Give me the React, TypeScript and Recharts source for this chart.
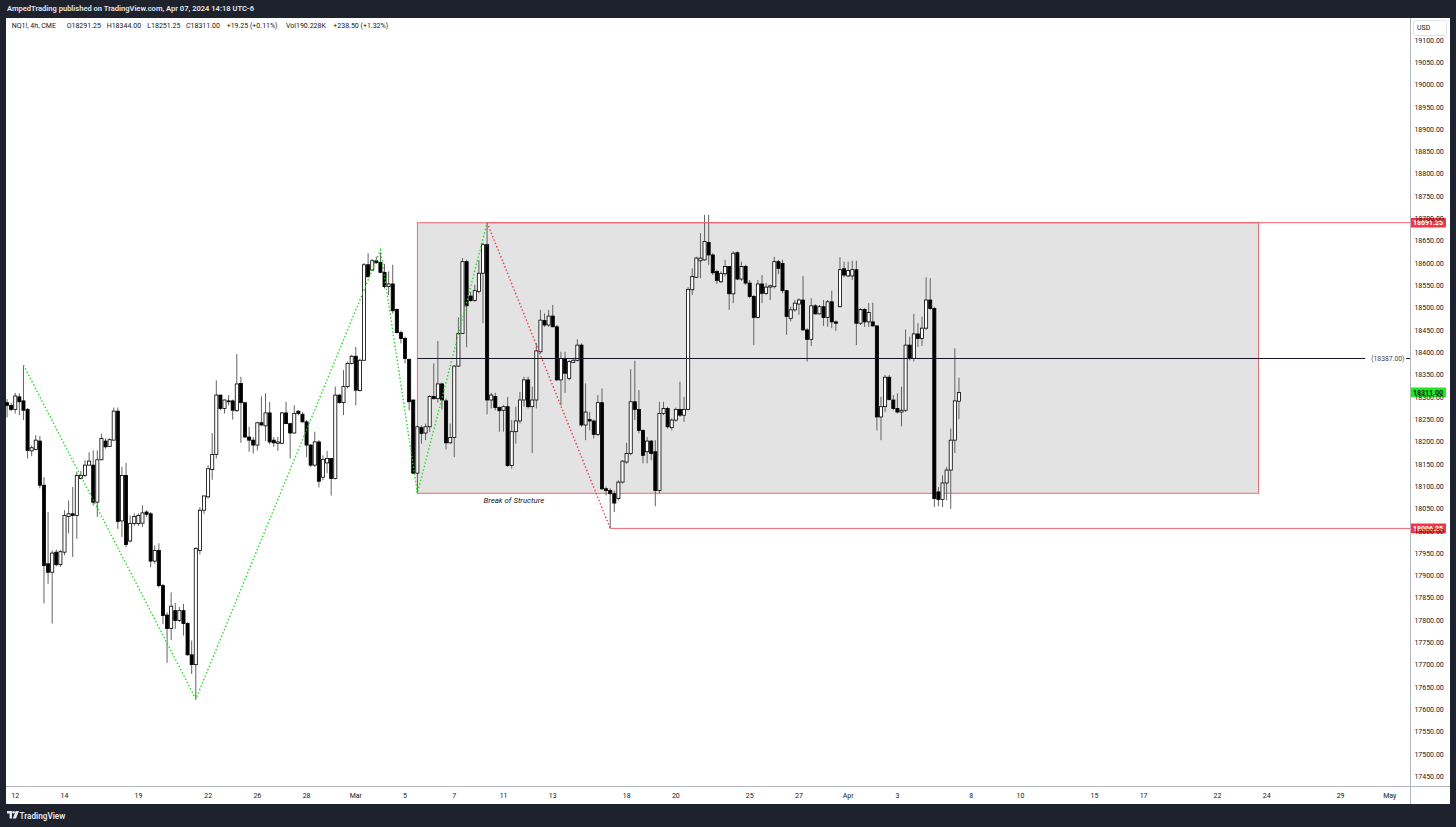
import React from 'react';
import { ComposedChart, Bar, Line, XAxis, YAxis, ReferenceArea, ReferenceLine } from 'recharts';

// ---------------- data (NQ1!, 4h) ----------------
const OPEN: number[] = [
  18288, 18282, 18273, 18301, 18292, 18273, 18180, 18183, 18202, 18103,
  17927, 17908, 17953, 17925, 17953, 18033, 18039, 18035, 18118, 18125,
  18148, 18148, 18065, 18160, 18202, 18190, 18204, 18269, 18023, 18125,
  17978, 18017, 18017, 18018, 18043, 18039, 17933, 17957, 17878, 17812,
  17782, 17822, 17800, 17822, 17793, 17723, 17701, 17957, 18047, 18077,
  18138, 18172, 18305, 18275, 18292, 18292, 18270, 18331, 18288, 18211,
  18204, 18193, 18243, 18236, 18265, 18204, 18197, 18197, 18265, 18241,
  18220, 18269, 18262, 18245, 18193, 18148, 18200, 18121, 18153, 18163,
  18118, 18305, 18288, 18324, 18376, 18392, 18315, 18383, 18597, 18585,
  18606, 18602, 18580, 18548, 18554, 18497, 18445, 18432, 18385, 18294,
  18130, 18232, 18220, 18234, 18302, 18297, 18330, 18292, 18198, 18210,
  18370, 18443, 18604, 18527, 18517, 18537, 18578, 18642, 18294, 18302,
  18277, 18271, 18279, 18147, 18223, 18247, 18294, 18339, 18279, 18294,
  18402, 18472, 18462, 18482, 18458, 18339, 18387, 18342, 18378, 18383,
  18417, 18238, 18250, 18247, 18217, 18288, 18095, 18091, 18084, 18073,
  18110, 18155, 18174, 18290, 18273, 18226, 18178, 18202, 18178, 18091,
  18264, 18275, 18232, 18249, 18273, 18260, 18273, 18541, 18569, 18606,
  18608, 18647, 18619, 18582, 18559, 18577, 18593, 18532, 18624, 18565,
  18593, 18556, 18526, 18479, 18554, 18533, 18547, 18548, 18604, 18600,
  18539, 18477, 18496, 18509, 18518, 18451, 18430, 18505, 18487, 18503,
  18479, 18514, 18469, 18503, 18588, 18572, 18572, 18586, 18466, 18497,
  18469, 18469, 18460, 18256, 18279, 18345, 18294, 18275, 18267, 18271,
  18417, 18387, 18442, 18432, 18455, 18518, 18499, 18088, 18071, 18108,
  18137, 18204, 18291.25,
];
const HIGH: number[] = [
  18296, 18287, 18310, 18309, 18372, 18276, 18192, 18215, 18213, 18121,
  18043, 17957, 17959, 17958, 18047, 18069, 18099, 18133, 18135, 18159,
  18177, 18181, 18181, 18219, 18208, 18208, 18277, 18277, 18144, 18153,
  18035, 18040, 18040, 18058, 18047, 18043, 17968, 17973, 17882, 17818,
  17863, 17839, 17830, 17837, 17796, 17755, 17964, 18054, 18080, 18148,
  18220, 18338, 18305, 18295, 18305, 18295, 18397, 18346, 18288, 18234,
  18211, 18245, 18302, 18309, 18290, 18211, 18211, 18267, 18290, 18243,
  18282, 18271, 18267, 18249, 18195, 18223, 18204, 18170, 18180, 18163,
  18324, 18307, 18361, 18380, 18395, 18413, 18387, 18601, 18623, 18610,
  18615, 18625, 18599, 18582, 18597, 18499, 18449, 18436, 18387, 18294,
  18237, 18237, 18241, 18305, 18376, 18426, 18333, 18297, 18241, 18372,
  18479, 18612, 18608, 18537, 18552, 18608, 18646, 18691.25, 18310, 18310,
  18279, 18282, 18301, 18249, 18279, 18312, 18346, 18346, 18324, 18421,
  18496, 18488, 18496, 18507, 18462, 18402, 18402, 18383, 18388, 18430,
  18421, 18331, 18267, 18250, 18305, 18320, 18100, 18096, 18091, 18114,
  18159, 18198, 18363, 18382, 18316, 18228, 18211, 18204, 18204, 18290,
  18290, 18279, 18253, 18277, 18335, 18301, 18547, 18589, 18615, 18668,
  18709, 18709, 18623, 18586, 18582, 18608, 18593, 18627, 18627, 18604,
  18597, 18563, 18529, 18563, 18574, 18556, 18552, 18615, 18608, 18608,
  18541, 18503, 18518, 18522, 18572, 18455, 18522, 18509, 18507, 18518,
  18518, 18539, 18472, 18614, 18604, 18604, 18606, 18606, 18500, 18500,
  18511, 18512, 18462, 18301, 18350, 18350, 18305, 18309, 18324, 18452,
  18436, 18487, 18466, 18481, 18569, 18567, 18503, 18099, 18125, 18144,
  18230, 18410, 18344,
];
const LOW: number[] = [
  18255, 18269, 18264, 18260, 18249, 18163, 18168, 18181, 18096, 17838,
  17882, 17793, 17921, 17920, 17946, 17995, 17942, 17983, 18116, 18121,
  18148, 18058, 18032, 18159, 18185, 18189, 18204, 18005, 17987, 17964,
  17975, 18012, 18012, 18009, 18032, 17919, 17927, 17874, 17792, 17705,
  17756, 17781, 17796, 17766, 17721, 17680, 17624, 17948, 18039, 18073,
  18115, 18163, 18271, 18264, 18282, 18250, 18267, 18198, 18210, 18178,
  18174, 18181, 18236, 18202, 18195, 18189, 18180, 18195, 18240, 18163,
  18219, 18260, 18243, 18166, 18144, 18144, 18098, 18114, 18130, 18080,
  18116, 18286, 18260, 18320, 18374, 18282, 18313, 18382, 18569, 18584,
  18599, 18578, 18544, 18529, 18488, 18443, 18421, 18376, 18271, 18129,
  18085, 18196, 18204, 18222, 18295, 18288, 18273, 18183, 18196, 18166,
  18369, 18442, 18412, 18514, 18514, 18533, 18466, 18262, 18275, 18271,
  18223, 18223, 18144, 18140, 18196, 18241, 18279, 18275, 18175, 18275,
  18398, 18458, 18458, 18457, 18337, 18282, 18310, 18338, 18377, 18380,
  18234, 18204, 18226, 18208, 18213, 18092, 18080, 18006.25, 18043, 18069,
  18107, 18151, 18170, 18249, 18219, 18152, 18152, 18159, 18056, 18085,
  18260, 18230, 18226, 18245, 18256, 18245, 18271, 18529, 18567, 18567,
  18606, 18597, 18574, 18554, 18556, 18571, 18496, 18511, 18563, 18561,
  18552, 18522, 18417, 18477, 18511, 18529, 18518, 18544, 18576, 18533,
  18440, 18470, 18492, 18485, 18449, 18380, 18415, 18485, 18485, 18460,
  18458, 18455, 18449, 18502, 18569, 18569, 18563, 18417, 18462, 18458,
  18458, 18458, 18226, 18204, 18267, 18293, 18271, 18264, 18235, 18267,
  18383, 18380, 18413, 18415, 18451, 18496, 18054, 18056, 18054, 18069,
  18050, 18175, 18251.25,
];
const CLOSE: number[] = [
  18282, 18273, 18303, 18290, 18271, 18181, 18187, 18204, 18103, 17923,
  17908, 17951, 17925, 17954, 18035, 18039, 18035, 18125, 18125, 18148,
  18157, 18065, 18160, 18208, 18189, 18205, 18269, 18022, 18125, 17970,
  18017, 18033, 18035, 18041, 18038, 17933, 17957, 17878, 17811, 17782,
  17832, 17800, 17822, 17793, 17723, 17701, 17961, 18047, 18079, 18140,
  18172, 18305, 18275, 18294, 18291, 18271, 18330, 18288, 18211, 18204,
  18193, 18243, 18238, 18265, 18200, 18198, 18200, 18265, 18241, 18220,
  18264, 18264, 18245, 18193, 18148, 18200, 18112, 18161, 18163, 18118,
  18305, 18288, 18324, 18376, 18392, 18316, 18383, 18597, 18570, 18606,
  18602, 18580, 18548, 18554, 18494, 18445, 18432, 18387, 18290, 18130,
  18234, 18219, 18234, 18302, 18297, 18330, 18294, 18198, 18210, 18370,
  18443, 18604, 18505, 18517, 18539, 18578, 18642, 18294, 18305, 18277,
  18270, 18279, 18147, 18223, 18247, 18294, 18339, 18279, 18294, 18404,
  18473, 18462, 18482, 18458, 18339, 18387, 18354, 18380, 18383, 18417,
  18238, 18267, 18247, 18217, 18288, 18095, 18091, 18084, 18063, 18110,
  18157, 18174, 18290, 18273, 18226, 18170, 18202, 18174, 18091, 18264,
  18275, 18234, 18249, 18273, 18260, 18273, 18542, 18571, 18612, 18612,
  18649, 18619, 18579, 18562, 18577, 18593, 18532, 18623, 18565, 18593,
  18556, 18526, 18479, 18554, 18533, 18547, 18550, 18604, 18589, 18539,
  18481, 18496, 18511, 18518, 18451, 18430, 18505, 18487, 18503, 18479,
  18514, 18469, 18466, 18586, 18574, 18584, 18586, 18466, 18497, 18469,
  18490, 18460, 18256, 18279, 18345, 18295, 18275, 18267, 18271, 18417,
  18387, 18442, 18432, 18455, 18518, 18499, 18073, 18071, 18108, 18137,
  18204, 18292, 18311,
];

// time slots (4h bars + future space) and date labels
const SLOT_COUNT = 343;
const TICK_SLOTS = [2, 14, 32, 49, 61, 73, 85, 97, 109, 121, 133, 151, 163, 181, 193, 205, 217, 235, 247, 265, 277, 295, 307, 325, 337];
const TICK_LABELS = ['12', '14', '19', '22', '26', '28', 'Mar', '5', '7', '11', '13', '18', '20', '25', '27', 'Apr', '3', '8', '10', '15', '17', '22', '24', '29', 'May'];
const PRICE_TICKS = [
  17450, 17500, 17550, 17600, 17650, 17700, 17750, 17800, 17850, 17900, 17950,
  18000, 18050, 18100, 18150, 18200, 18250, 18300, 18350, 18400, 18450, 18500,
  18550, 18600, 18650, 18700, 18750, 18800, 18850, 18900, 18950, 19000, 19050, 19100,
];
const Y_DOMAIN: [number, number] = [17429, 19150];

// drawings
const ZIGZAG_SLOTS = [4, 46, 91, 100, 117];
const ZIGZAG_PRICES = [18372, 17624, 18630, 18085, 18691.25];
const BOS_SLOTS = [117, 147];
const BOS_PRICES = [18691.25, 18006.25];
const RANGE_FROM = 100;
const RANGE_TO = 305;
const RANGE_HIGH = 18691.25;
const RANGE_LOW = 18085;
const MID_LEVEL = 18387;
const MID_LINE_END = 331;
const SWEEP_LOW = 18006.25;
const LAST_PRICE = 18311;
const LAST_SLOT = SLOT_COUNT - 1;

// ---------------- layout ----------------
const W = 1456;
const H = 827;
const BAND = 4.103;
const PLOT_LEFT = 5.05;
const PLOT_W = SLOT_COUNT * BAND;
const RIGHT_MARGIN = 6;
const YAXIS_W = W - PLOT_LEFT - PLOT_W - RIGHT_MARGIN;
const AXIS_X = 1410;
const FONT = 'Roboto, "Open Sans", sans-serif';
const TEXT = '#131722';
const RED = '#f23645';
const RED_LINE = '#f06570';
const GREEN = '#14e014';
const BODY_W = 3.1;

const LABEL_AT: Record<number, string> = {};
TICK_SLOTS.forEach((s, k) => { LABEL_AT[s] = TICK_LABELS[k]; });

const rows = Array.from({ length: SLOT_COUNT }, (_, i) => {
  const has = i < OPEN.length;
  const zi = ZIGZAG_SLOTS.indexOf(i);
  const bi = BOS_SLOTS.indexOf(i);
  return {
    i,
    o: has ? OPEN[i] : null,
    h: has ? HIGH[i] : null,
    l: has ? LOW[i] : null,
    c: has ? CLOSE[i] : null,
    range: has ? [LOW[i], HIGH[i]] : null,
    zz: zi >= 0 ? ZIGZAG_PRICES[zi] : null,
    bos: bi >= 0 ? BOS_PRICES[bi] : null,
  };
});

function Candle(props: any) {
  const { x, y, width, height, payload } = props;
  if (!payload || payload.o == null || !isFinite(y) || !isFinite(height)) return null;
  const { o, h, l, c } = payload;
  const span = h - l;
  const toY = (p: number) => (span === 0 ? y : y + ((h - p) / span) * height);
  const cx = x + width / 2;
  const top = toY(Math.max(o, c));
  const bot = toY(Math.min(o, c));
  const up = c >= o;
  return (
    <g>
      <line x1={cx} x2={cx} y1={y} y2={y + height} stroke="#636363" strokeWidth={1} />
      <rect
        x={cx - BODY_W / 2}
        y={top}
        width={BODY_W}
        height={Math.max(bot - top, 0.9)}
        fill={up ? '#ffffff' : '#000000'}
        stroke="#000000"
        strokeWidth={0.8}
      />
    </g>
  );
}

function DayTick(props: any) {
  const { x, y, payload } = props;
  const label = LABEL_AT[payload?.value];
  if (!label) return null;
  return (
    <text x={x} y={y + 11.5} textAnchor="middle" fontSize={7} fontFamily={FONT} fill={TEXT}>
      {label}
    </text>
  );
}

function PriceTick(props: any) {
  const { x, y, payload } = props;
  return (
    <text x={x + 2} y={y} dy="0.33em" textAnchor="start" fontSize={7} fontFamily={FONT} fill={TEXT}>
      {Number(payload.value).toFixed(2)}
    </text>
  );
}

function RangeBox(props: any) {
  const { x, y, width, height } = props;
  if (!isFinite(x) || !isFinite(y)) return null;
  return (
    <rect
      x={x + BAND / 2}
      y={y}
      width={width - BAND}
      height={height}
      fill="#e3e3e3"
      stroke={RED_LINE}
      strokeWidth={1}
    />
  );
}

function Badge(props: any) {
  const { viewBox, text, fill, color } = props;
  if (!viewBox) return null;
  const y = viewBox.y;
  return (
    <g>
      <rect x={AXIS_X} y={y - 4.8} width={36} height={9.6} fill={fill} rx={1} />
      <text x={AXIS_X + 18} y={y} dy="0.34em" textAnchor="middle" fontSize={7} fontWeight={700} fontFamily={FONT} fill={color}>
        {text}
      </text>
    </g>
  );
}

function MidLabel(props: any) {
  const { viewBox, text } = props;
  if (!viewBox) return null;
  return (
    <text x={viewBox.x + viewBox.width + 6} y={viewBox.y} dy="0.34em" textAnchor="start" fontSize={6.8} fontFamily={FONT} fill="#434651">
      {text}
    </text>
  );
}

function BosLabel(props: any) {
  const { viewBox, text } = props;
  if (!viewBox) return null;
  return (
    <text x={viewBox.x + viewBox.width / 2} y={viewBox.y + 7.5} dy="0.34em" textAnchor="middle" fontSize={7.8} fontStyle="italic" fontFamily={FONT} fill={TEXT}>
      {text}
    </text>
  );
}

const abs = (left: number, top: number, extra: React.CSSProperties = {}): React.CSSProperties => ({
  position: 'absolute',
  left,
  top,
  whiteSpace: 'nowrap',
  lineHeight: 1,
  ...extra,
});

const LEGEND: [number, string][] = [
  [11.7, 'NQ1!, 4h, CME'],
  [66.7, 'O18291.25'],
  [106.7, 'H18344.00'],
  [147.3, 'L18251.25'],
  [186, 'C18311.00'],
  [226.7, '+19.25 (+0.11%)'],
  [286, 'Vol190.228K'],
  [333.3, '+238.50 (+1.32%)'],
];

export default function App() {
  return (
    <div style={{ position: 'absolute', left: 0, top: 0, width: W, height: H, background: '#1e222d', overflow: 'hidden', fontFamily: FONT }}>
      <div style={{ position: 'absolute', left: 6, top: 18, width: 1444, height: 786, background: '#ffffff' }} />
      <div style={{ position: 'absolute', left: 0, top: 0 }}>
        <ComposedChart
          width={W}
          height={H}
          data={rows}
          margin={{ top: 18, right: RIGHT_MARGIN, bottom: 23, left: PLOT_LEFT }}
          barCategoryGap={0}
        >
          <XAxis
            dataKey="i"
            type="category"
            interval={0}
            tickLine={false}
            axisLine={false}
            tickSize={0}
            tickMargin={0}
            height={18}
            tick={<DayTick />}
          />
          <YAxis
            orientation="right"
            type="number"
            domain={Y_DOMAIN}
            ticks={PRICE_TICKS}
            interval={0}
            allowDataOverflow
            tickLine={false}
            axisLine={false}
            tickSize={0}
            tickMargin={0}
            width={YAXIS_W}
            tick={<PriceTick />}
          />
          <ReferenceArea x1={RANGE_FROM} x2={RANGE_TO} y1={RANGE_LOW} y2={RANGE_HIGH} shape={<RangeBox />} zIndex={50} />
          <Bar dataKey="range" shape={<Candle />} isAnimationActive={false} />
          <Line dataKey="zz" type="linear" connectNulls stroke={GREEN} strokeWidth={1.4} strokeDasharray="1.4 2.2" dot={false} activeDot={false} isAnimationActive={false} />
          <Line dataKey="bos" type="linear" connectNulls stroke={RED} strokeWidth={1.4} strokeDasharray="1.4 2.2" dot={false} activeDot={false} isAnimationActive={false} />
          <ReferenceLine
            segment={[{ x: BOS_SLOTS[0], y: RANGE_HIGH }, { x: LAST_SLOT, y: RANGE_HIGH }]}
            stroke={RED_LINE}
            strokeWidth={1}
          />
          <ReferenceLine
            segment={[{ x: BOS_SLOTS[1], y: SWEEP_LOW }, { x: LAST_SLOT, y: SWEEP_LOW }]}
            stroke={RED_LINE}
            strokeWidth={1}
          />
          <ReferenceLine
            segment={[{ x: RANGE_FROM, y: MID_LEVEL }, { x: MID_LINE_END, y: MID_LEVEL }]}
            stroke="#131722"
            strokeWidth={1}
            label={<MidLabel text="(18387.00)" />}
          />
          <ReferenceLine
            segment={[{ x: LAST_SLOT - 1, y: MID_LEVEL }, { x: LAST_SLOT, y: MID_LEVEL }]}
            stroke="#131722"
            strokeWidth={1}
          />
          <ReferenceLine
            segment={[{ x: RANGE_FROM, y: RANGE_LOW }, { x: BOS_SLOTS[1], y: RANGE_LOW }]}
            stroke="none"
            label={<BosLabel text="Break of Structure" />}
          />
          <ReferenceLine y={RANGE_HIGH} stroke="none" zIndex={1000} label={<Badge text="18691.25" fill={RED} color="#ffffff" />} />
          <ReferenceLine y={SWEEP_LOW} stroke="none" zIndex={1000} label={<Badge text="18006.25" fill={RED} color="#ffffff" />} />
          <ReferenceLine y={LAST_PRICE} stroke="none" zIndex={1000} label={<Badge text="18311.00" fill="#1ee81e" color="#131722" />} />
        </ComposedChart>
      </div>

      {/* panel separators */}
      <div style={{ position: 'absolute', left: AXIS_X, top: 18, width: 1, height: 786, background: '#b2b5be' }} />
      <div style={{ position: 'absolute', left: 6, top: 786, width: 1444, height: 1, background: '#b2b5be' }} />

      {/* currency box */}
      <div style={{ position: 'absolute', left: 1412.5, top: 19.5, width: 34, height: 16.5, background: '#ffffff', border: '1px solid #e0e3eb', borderRadius: 3, boxSizing: 'border-box' }} />
      <div style={abs(1417, 24.5, { fontSize: 7, color: TEXT })}>USD</div>

      {/* header */}
      <div style={abs(7, 5.1, { fontSize: 7.55, fontWeight: 600, color: '#e6e8ee' })}>
        AmpedTrading published on TradingView.com, Apr 07, 2024 14:18 UTC-6
      </div>
      {LEGEND.map(([x, t]) => (
        <div key={t} style={abs(x, 23.3, { fontSize: 7, color: TEXT })}>{t}</div>
      ))}

      {/* footer */}
      <svg style={{ position: 'absolute', left: 7, top: 811 }} width={12} height={8} viewBox="0 0 12 8">
        <path d="M0 0 H5 V7.5 H2.6 V2.4 H0 Z" fill="#e6e8ee" />
        <circle cx={6.6} cy={1.3} r={1.3} fill="#e6e8ee" />
        <path d="M8.6 0 H12 L9 7.5 H5.8 Z" fill="#e6e8ee" />
      </svg>
      <div style={abs(19.5, 811.5, { fontSize: 8.2, fontWeight: 600, color: '#e6e8ee' })}>TradingView</div>
    </div>
  );
}
